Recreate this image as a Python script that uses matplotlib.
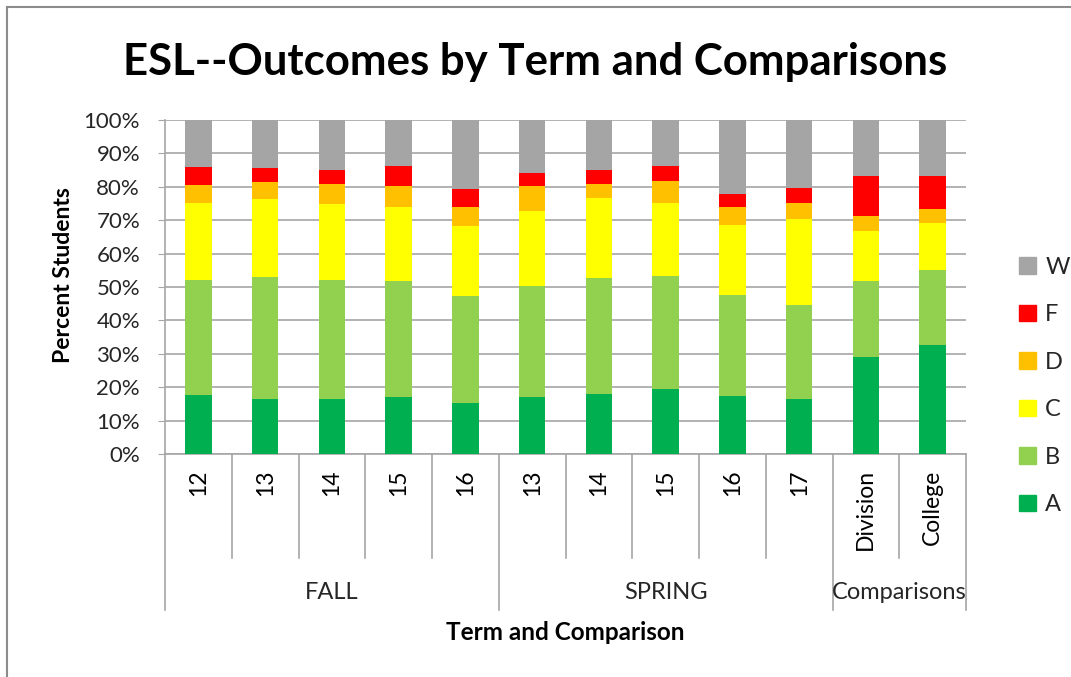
import matplotlib
matplotlib.use("Agg")
import matplotlib.pyplot as plt
import matplotlib.patches as mpatches
import matplotlib.transforms as mtransforms
from matplotlib.lines import Line2D
import numpy as np

plt.rcParams['font.family'] = ['Lato', 'DejaVu Sans']

# DATA (percent of students per grade)
terms = ['12', '13', '14', '15', '16', '13', '14', '15', '16', '17', 'Division', 'College']
groups = ['FALL', 'SPRING', 'Comparisons']
group_sizes = [5, 5, 2]
grades = ['A', 'B', 'C', 'D', 'F', 'W']
pct_a = [17.7, 16.6, 16.6, 17.0, 15.4, 17.0, 18.1, 19.6, 17.4, 16.6, 29.1, 32.6]
pct_b = [34.5, 36.4, 35.6, 34.8, 31.8, 33.3, 34.5, 33.8, 30.2, 28.0, 22.7, 22.6]
pct_c = [22.9, 23.3, 22.6, 22.3, 21.1, 22.6, 24.1, 21.7, 21.1, 25.7, 15.0, 13.9]
pct_d = [5.3, 5.0, 6.1, 6.0, 5.8, 7.2, 4.2, 6.6, 5.4, 4.8, 4.6, 4.2]
pct_f = [5.5, 4.2, 4.2, 6.2, 5.3, 3.9, 4.2, 4.6, 3.8, 4.6, 11.8, 9.9]
pct_w = [14.1, 14.5, 14.9, 13.7, 20.6, 16.0, 14.9, 13.7, 22.1, 20.3, 16.8, 16.8]

colors = ['#00B050', '#92D050', '#FFFF00', '#FFC000', '#FF0000', '#A5A5A5']
grid_col = '#A6A6A6'
text_col = '#262626'

fig = plt.figure(figsize=(10.71, 6.77), dpi=100)
ax = fig.add_axes([165 / 1071, 1 - 454 / 677, 801 / 1071, 334 / 677])

x = np.arange(len(terms))
bottom = np.zeros(len(terms))
for vals, col, name in zip([pct_a, pct_b, pct_c, pct_d, pct_f, pct_w], colors, grades):
    ax.bar(x, vals, bottom=bottom, width=0.4, color=col, label=name, zorder=3)
    bottom += np.array(vals)

ax.set_xlim(-0.5, len(terms) - 0.5)
ax.set_ylim(0, 100)
ax.set_yticks(range(0, 101, 10))
ax.set_yticklabels([f"{v}%" for v in range(0, 101, 10)], fontsize=16, color=text_col)
ax.tick_params(axis='y', length=5, color=grid_col, pad=13)
ax.set_xticks(x)
ax.set_xticklabels(terms, rotation=90, fontsize=16.5, va='top', color='black')
ax.tick_params(axis='x', length=0, pad=11)
ax.grid(axis='y', color=grid_col, linewidth=1.2, zorder=0)
for s in ['top', 'right']:
    ax.spines[s].set_visible(False)
for s in ['left', 'bottom']:
    ax.spines[s].set_color(grid_col)
    ax.spines[s].set_linewidth(1.2)

# hierarchical category axis
trans = mtransforms.blended_transform_factory(ax.transData, ax.transAxes)
edges = np.cumsum([0] + group_sizes) - 0.5
for b in np.arange(-0.5, len(terms)):
    depth = -0.467 if b in edges else -0.311
    ax.add_line(Line2D([b, b], [0, depth], transform=trans, color=grid_col,
                       linewidth=1.2, clip_on=False))
for i, g in enumerate(groups):
    ax.text((edges[i] + edges[i + 1]) / 2, -0.416, g, transform=trans,
            ha='center', va='center', fontsize=17, color=text_col)

ax.text(0.5, -0.533, 'Term and Comparison', transform=ax.transAxes,
        ha='center', va='center', fontsize=17.5, fontweight='bold')
fig.text(63 / 1071, 1 - 275 / 677, 'Percent Students', rotation=90,
         ha='center', va='center', fontsize=16.5, fontweight='bold')

fig.text(0.5, 1 - 62 / 677, 'ESL--Outcomes by Term and Comparisons',
         ha='center', va='center', fontsize=31.5, fontweight='bold')

handles = [mpatches.Patch(color=c, label=n) for c, n in zip(colors, grades)][::-1]
fig.legend(handles=handles, loc='center left', bbox_to_anchor=(998 / 1071, 1 - 386 / 677),
           frameon=False, fontsize=17, handlelength=0.7, handleheight=0.7,
           labelspacing=1.12, handletextpad=0.4, labelcolor=text_col)

# outer chart border
fig.add_artist(Line2D([7 / 1071, 7 / 1071], [0, 1 - 7 / 677], transform=fig.transFigure,
                      color='#8C8C8C', linewidth=1.5))
fig.add_artist(Line2D([7 / 1071, 1], [1 - 7 / 677, 1 - 7 / 677], transform=fig.transFigure,
                      color='#8C8C8C', linewidth=1.5))

fig.savefig('out.png', dpi=100)
